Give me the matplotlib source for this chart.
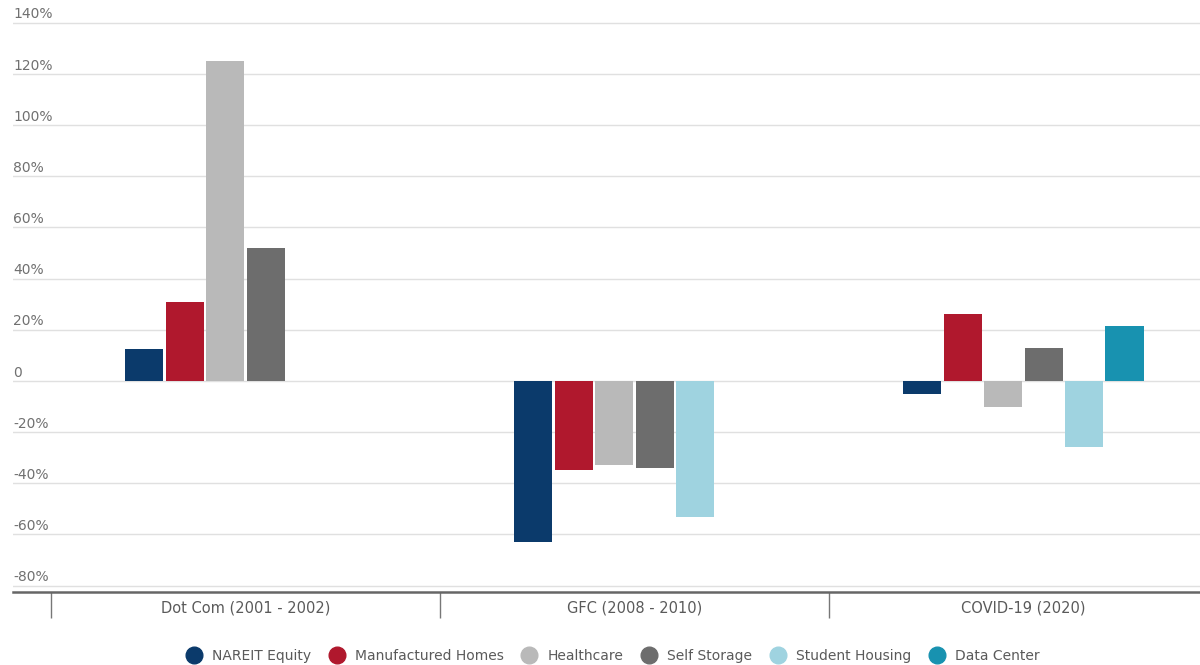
import numpy as np
import matplotlib
matplotlib.use("Agg")
import matplotlib.pyplot as plt
from matplotlib.lines import Line2D

# data (% change per crisis window)
periods = ["Dot Com (2001 - 2002)", "GFC (2008 - 2010)", "COVID-19 (2020)"]
series = ["NAREIT Equity", "Manufactured Homes", "Healthcare",
          "Self Storage", "Student Housing", "Data Center"]
nareit = [12.5, -63, -5]
manufactured = [31, -35, 26]
healthcare = [125, -33, -10]
self_storage = [52, -34, 13]
student_housing = [np.nan, -53, -26]
data_center = [np.nan, np.nan, 21.5]
yticks = [-80, -60, -40, -20, 0, 20, 40, 60, 80, 100, 120, 140]
ytick_labels = ["-80%", "-60%", "-40%", "-20%", "0", "20%", "40%",
                "60%", "80%", "100%", "120%", "140%"]

colors = ["#0b3a6b", "#b0182d", "#b9b9b9", "#6d6d6d", "#9fd3e0", "#1892b0"]
values = [nareit, manufactured, healthcare, self_storage, student_housing, data_center]

plt.rcParams['font.family'] = ['DejaVu Sans']
text_color = "#5a5a5a"

fig = plt.figure(figsize=(12, 6.65), dpi=100)
ax = fig.add_axes([0.0108, 0.1098, 0.9892, 0.8752])

x = np.arange(len(periods))
slot = 0.104
width = 0.098
for i, (vals, c) in enumerate(zip(values, colors)):
    ax.bar(x + (i - 2.5) * slot, vals, width=width, color=c, zorder=3)

# grid lines and in-plot y labels
ax.set_yticks(yticks)
ax.yaxis.grid(True, color="#e0e0e0", linewidth=1.0, zorder=0)
ax.tick_params(axis='y', length=0, labelleft=False)
for v, lab in zip(yticks, ytick_labels):
    ax.annotate(lab, xy=(0, v), xycoords=('axes fraction', 'data'),
                xytext=(0, 6), textcoords='offset points',
                ha='left', va='center', fontsize=10, color="#707070")

# category dividers as major ticks, labels as minor ticks
ax.set_xticks([-0.5, 0.5, 1.5, 2.5])
ax.set_xticklabels([])
ax.tick_params(axis='x', which='major', length=19, width=1, color="#777777",
               direction='out')
ax.set_xticks(x, minor=True)
ax.set_xticklabels(periods, minor=True)
ax.tick_params(axis='x', which='minor', length=0, pad=6, labelsize=10.5,
               labelcolor=text_color)

# limits after ticks, set_xticks would widen them
ax.set_xlim(-0.598, 2.454)
ax.set_ylim(-82.5, 145)

for s in ['top', 'right', 'left']:
    ax.spines[s].set_visible(False)
ax.spines['bottom'].set_color("#666666")
ax.spines['bottom'].set_linewidth(1.8)

handles = [Line2D([0], [0], marker='o', linestyle='none', markersize=12,
                  markerfacecolor=c, markeredgecolor=c) for c in colors]
fig.legend(handles, series, loc='lower center', bbox_to_anchor=(0.508, -0.016),
           ncol=6, frameon=False, fontsize=10, handletextpad=0.3,
           columnspacing=0.85, labelcolor=text_color)

plt.savefig("out.png", dpi=100)
